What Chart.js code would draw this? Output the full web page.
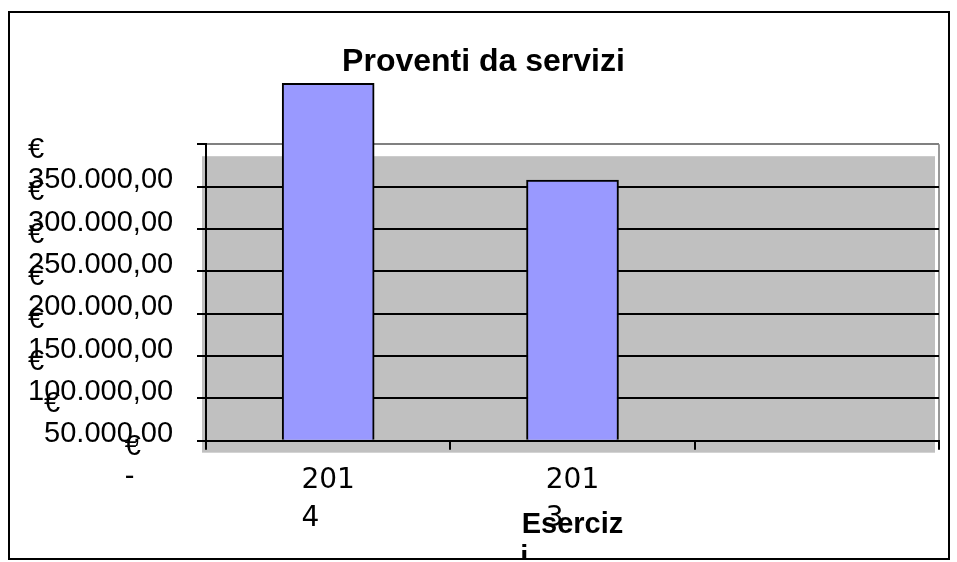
<!DOCTYPE html>
<html>
<head>
<meta charset="utf-8">
<script src="https://cdn.jsdelivr.net/npm/chart.js@4.4.0/dist/chart.umd.min.js"></script>
<style>
  html, body { margin: 0; padding: 0; background: #fff; }
  #wrap { position: relative; width: 957px; height: 562px; }
  #chart { position: absolute; left: 0; top: 0; }
  #frame { position: absolute; left: 8px; top: 11px; width: 938px; height: 545px; border: 2px solid #000; pointer-events: none; }
</style>
</head>
<body>
<div id="wrap">
  <canvas id="chart" width="957" height="559"></canvas>
  <div id="frame"></div>
</div>
<script>
// Data
const categories = ['2014', '2013', ''];
const proventi = [422000, 307500, null];
const yTickLabels = ['€ -', '€ 50.000,00', '€ 100.000,00', '€ 150.000,00',
                     '€ 200.000,00', '€ 250.000,00', '€ 300.000,00', '€ 350.000,00'];
const yStep = 50000;
const yMax = 350000;

// Excel wrapped the axis labels in odd ways; leading spaces copy that
const labelIndent = { 0: 12, 50000: 2 };

// grey plot area, drawn a bit offset like in the original
const plotBackground = {
    id: 'plotBackground',
    beforeDraw(chart) {
        const { ctx, chartArea: a } = chart;
        ctx.save();
        ctx.fillStyle = '#c0c0c0';
        ctx.fillRect(a.left - 4, a.top + 12, a.right - a.left, a.bottom - a.top);
        ctx.restore();
    }
};

const ctx = document.getElementById('chart').getContext('2d');
new Chart(ctx, {
    type: 'bar',
    data: {
        labels: categories,
        datasets: [{
            label: 'Proventi da servizi',
            data: proventi,
            backgroundColor: '#9999ff',
            borderColor: '#000',
            borderWidth: 2,
            barThickness: 92,
            clip: false
        }]
    },
    options: {
        responsive: false,
        animation: false,
        layout: { padding: { left: 28, right: 18, top: 0, bottom: 0 } },
        plugins: {
            legend: { display: false },
            tooltip: { enabled: false },
            title: {
                display: true,
                text: 'Proventi da servizi',
                color: '#000',
                font: { family: "'Liberation Sans', Arial, sans-serif", size: 32, weight: 'bold', lineHeight: 1.2 },
                padding: { top: 43, bottom: 62.8 }
            }
        },
        scales: {
            x: {
                afterFit(s) { s.height = 118.3; },
                ticks: {
                    autoSkip: false,
                    maxRotation: 0,
                    padding: 12,
                    color: '#000',
                    font: { family: "'DejaVu Sans', Verdana, sans-serif", size: 28, lineHeight: 1.36 },
                    callback: function (value, index) {
                        const s = categories[index];
                        if (!s) return '';
                        return [s.slice(0, 3), s.slice(3) + '    '];
                    }
                },
                grid: {
                    offset: true,
                    drawOnChartArea: true,
                    color: (c) => c.type === 'scale' ? '#999' : 'rgba(0,0,0,0)',
                    tickColor: '#000',
                    lineWidth: 2,
                    tickLength: 9
                },
                border: { color: '#000', width: 2 },
                title: {
                    display: true,
                    text: ['Eserciz', 'i' + ' '.repeat(12)],
                    color: '#000',
                    font: { family: "'Liberation Sans', Arial, sans-serif", size: 29, weight: 'bold', lineHeight: 1.14 },
                    padding: { top: 0, bottom: -16 }
                }
            },
            y: {
                min: 0,
                max: yMax,
                afterFit(s) { s.width = 178; },
                ticks: {
                    stepSize: yStep,
                    autoSkip: false,
                    padding: 0,
                    crossAlign: 'far',
                    labelOffset: 21,
                    color: '#000',
                    font: { family: "'Liberation Sans', Arial, sans-serif", size: 29, lineHeight: 1.04 },
                    callback: function (value) {
                        const text = yTickLabels[Math.round(value / yStep)];
                        const cut = text.indexOf(' ');
                        const pad = ' '.repeat(labelIndent[value] || 0);
                        return [pad + text.slice(0, cut), pad + text.slice(cut + 1)];
                    }
                },
                grid: {
                    color: (c) => c.tick && c.tick.value === yMax ? '#808080' : '#000',
                    tickColor: '#000',
                    lineWidth: 2,
                    tickLength: 9
                },
                border: { color: '#000', width: 2 }
            }
        }
    },
    plugins: [plotBackground]
});
</script>
</body>
</html>
